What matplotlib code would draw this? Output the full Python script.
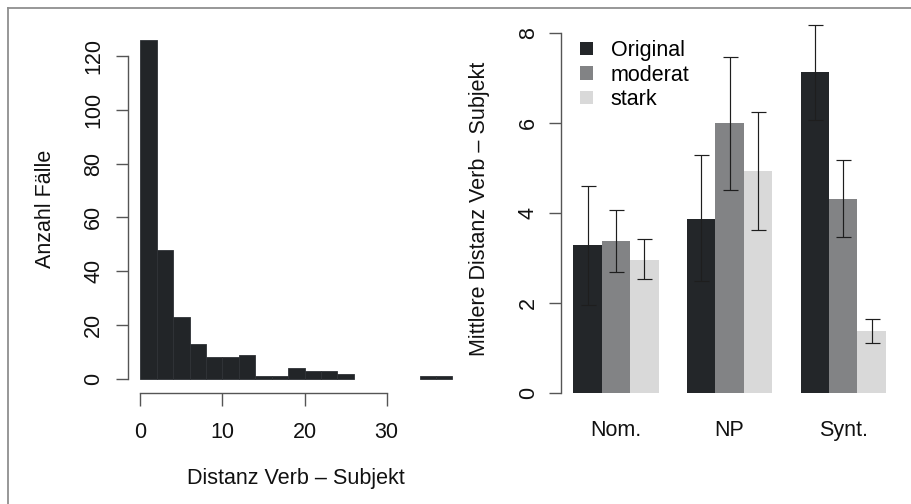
import matplotlib
matplotlib.use("Agg")
import matplotlib.pyplot as plt
from matplotlib.patches import Patch
from matplotlib.lines import Line2D
import numpy as np

plt.rcParams['font.family'] = ['Liberation Sans', 'DejaVu Sans']

# Histogram of verb-subject distances
hist_breaks = [0, 2, 4, 6, 8, 10, 12, 14, 16, 18, 20, 22, 24, 26, 28, 30, 32, 34, 36, 38]
hist_counts = [126, 48, 23, 13, 8, 8, 9, 1, 1, 4, 3, 3, 2, 0, 0, 0, 0, 1, 1]
hist_xticks = [0, 10, 20, 30]
hist_yticks = [0, 20, 40, 60, 80, 100, 120]

# Mean distance by condition and manipulation strength
groups = ["Nom.", "NP", "Synt."]
series = ["Original", "moderat", "stark"]
means = {
    "Original": [3.28, 3.87, 7.13],
    "moderat": [3.37, 6.00, 4.31],
    "stark": [2.96, 4.94, 1.37],
}
err_low = {
    "Original": [1.94, 2.48, 6.07],
    "moderat": [2.68, 4.52, 3.46],
    "stark": [2.52, 3.61, 1.11],
}
err_high = {
    "Original": [4.59, 5.28, 8.18],
    "moderat": [4.06, 7.47, 5.17],
    "stark": [3.41, 6.24, 1.64],
}
bar_yticks = [0, 2, 4, 6, 8]

colors = {"Original": "#232629", "moderat": "#828385", "stark": "#d9d9d9"}
axis_col = "#555555"
text_col = "#111111"
FS = 15.5

W, H = 911, 504
fig = plt.figure(figsize=(W / 100, H / 100), dpi=100)


def px_axes(x0, y0, x1, y1):
    return fig.add_axes([x0 / W, 1 - y1 / H, (x1 - x0) / W, (y1 - y0) / H])


# ---- left panel: histogram ----
ax1 = px_axes(127.8, 26, 464.9, 392.6)
edges = np.array(hist_breaks, dtype=float)
edge_widths = [0.6 if c > 0 else 0.0 for c in hist_counts]
ax1.bar(edges[:-1], hist_counts, width=np.diff(edges), align='edge',
        color="#222528", edgecolor="#2f3236", linewidth=edge_widths)
ax1.set_xlim(-1.52, 39.52)
ax1.set_ylim(-5.04, 131.04)
for s in ["top", "right"]:
    ax1.spines[s].set_visible(False)
ax1.spines["left"].set_bounds(0, 120)
ax1.spines["bottom"].set_bounds(0, 30)
for s in ["left", "bottom"]:
    ax1.spines[s].set_color(axis_col)
    ax1.spines[s].set_linewidth(1.0)
ax1.set_xticks(hist_xticks)
ax1.set_yticks(hist_yticks)
ax1.tick_params(axis='both', length=9, width=1.0, color=axis_col, labelsize=FS,
                labelcolor=text_col)
ax1.tick_params(axis='x', pad=12)
ax1.tick_params(axis='y', pad=8)
for lab in ax1.get_yticklabels():
    lab.set_rotation(90)
    lab.set_va('center')
    lab.set_ha('right')
ax1.set_xlabel("Distanz Verb – Subjekt", fontsize=FS, va='center', color=text_col)
ax1.xaxis.set_label_coords(0.5, -0.233)
ax1.set_ylabel("Anzahl Fälle", fontsize=FS, va='center', color=text_col)
ax1.yaxis.set_label_coords(-0.243, 0.5)

# ---- right panel: grouped bars with error bars ----
ax2 = px_axes(561, 26, 898.2, 392.6)
n_series = len(series)
for gi, g in enumerate(groups):
    for si, s in enumerate(series):
        x = 1 + gi * (n_series + 1) + si + 0.5
        m = means[s][gi]
        ax2.bar(x, m, width=1.0, color=colors[s], linewidth=0)
        ax2.errorbar(x, m, yerr=[[m - err_low[s][gi]], [err_high[s][gi] - m]],
                     fmt='none', ecolor="#1e1e1e", elinewidth=0.85, capsize=5.4,
                     capthick=0.85, clip_on=False)
ax2.set_xlim(0.56, 12.44)
ax2.set_ylim(0, 8.16)
for s in ["top", "right", "bottom"]:
    ax2.spines[s].set_visible(False)
ax2.spines["left"].set_bounds(0, 8)
ax2.spines["left"].set_color(axis_col)
ax2.spines["left"].set_linewidth(1.0)
ax2.set_yticks(bar_yticks)
ax2.set_xticks([1 + gi * (n_series + 1) + n_series / 2 for gi in range(len(groups))])
ax2.set_xticklabels(groups)
ax2.tick_params(axis='y', length=9, width=1.0, color=axis_col, labelsize=FS,
                labelcolor=text_col, pad=7)
ax2.tick_params(axis='x', length=0, labelsize=FS, labelcolor=text_col, pad=20)
for lab in ax2.get_yticklabels():
    lab.set_rotation(90)
    lab.set_va('center')
    lab.set_ha('right')
ax2.set_ylabel("Mittlere Distanz Verb – Subjekt", fontsize=FS, va='center',
               color=text_col)
ax2.yaxis.set_label_coords(-0.242, 0.5)

handles = [Patch(facecolor=colors[s], edgecolor='none', label=s) for s in series]
ax2.legend(handles=handles, loc='upper left', bbox_to_anchor=(0.03, 0.985),
           frameon=False, fontsize=FS, handlelength=0.6, handleheight=0.6,
           handletextpad=0.85, labelspacing=0.16, borderaxespad=0.0)

# figure border
fig.add_artist(Line2D([8.3 / W, 8.3 / W], [0, 1 - 8.3 / H], transform=fig.transFigure,
                      color="#8f8f8f", linewidth=1.3))
fig.add_artist(Line2D([8.3 / W, 1], [1 - 8.3 / H, 1 - 8.3 / H], transform=fig.transFigure,
                      color="#8f8f8f", linewidth=1.3))

fig.savefig("out.png", dpi=100)
